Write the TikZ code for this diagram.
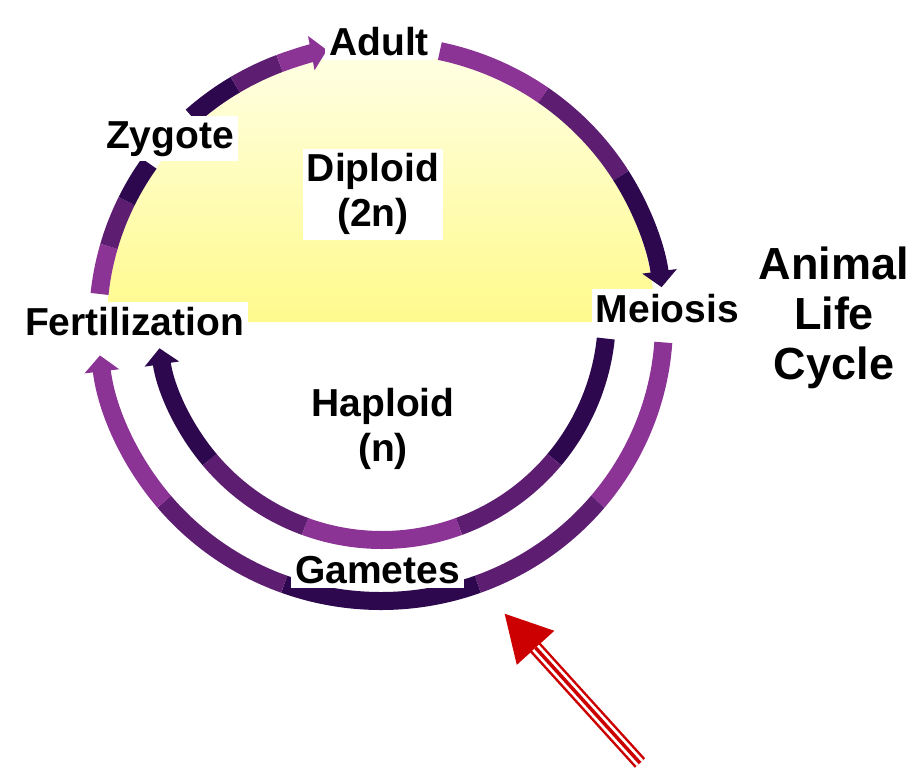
\documentclass[tikz,border=0pt]{standalone}
\usepackage{fontspec}
\setmainfont{Liberation Sans}
\usetikzlibrary{calc,arrows.meta}
\definecolor{cycdark}{RGB}{45,8,78}
\definecolor{cyclight}{RGB}{140,52,150}
\definecolor{diploidyellow}{RGB}{255,250,140}
\definecolor{diploidpale}{RGB}{255,255,228}
\definecolor{pointerred}{RGB}{204,0,0}
\newcommand\cyclefont{\fontsize{39}{45}\selectfont\bfseries}
\newcommand\titlefont{\fontsize{45}{50}\selectfont\bfseries}
\def\cyclearc[#1](#2)(#3:#4:#5:#6){\draw[#1] ($(#2)+({#5*cos(#3)},{#6*sin(#3)})$) arc (#3:#4:#5 and #6);}
\tikzset{
	stage/.style={line width=18pt},
	arcend/.style={-{Triangle[length=16pt,width=34pt]}},
	tag/.style={fill=white, inner xsep=4pt, inner ysep=5pt, font=\cyclefont},
}

\begin{document}
\begin{tikzpicture}[x=1pt,y=-1pt]
		%%%%% START %%%%%
		\useasboundingbox (0,0) rectangle (921,769);
		\fill[white] (0,0) rectangle (921,769);
		
		\coordinate (mid) at (381,323);
		\coordinate (inner) at (382,315);
		
		\shade[top color=diploidpale, bottom color=diploidyellow] ($(mid)+(-274,-1)$) arc (180:360:274 and 269) -- cycle;
		
		\cyclearc[stage, color=cyclight](mid)(186:196:283:278)
		\cyclearc[stage, color=cyclight!50!cycdark](mid)(196:206:283:278)
		\cyclearc[stage, color=cycdark](mid)(206:215:283:278)
		
		\cyclearc[stage, color=cycdark](mid)(228:239:283:278)
		\cyclearc[stage, color=cyclight!50!cycdark](mid)(239:249:283:278)
		\cyclearc[stage, arcend, color=cyclight](mid)(249:259:283:278)
		
		\cyclearc[stage, color=cyclight](mid)(282:305:283:278)
		\cyclearc[stage, color=cyclight!50!cycdark](mid)(305:328:283:278)
		\cyclearc[stage, arcend, color=cycdark](mid)(328:352.6:283:278)
		
		\cyclearc[stage, color=cyclight](mid)(4:40:283:278)
		\cyclearc[stage, color=cyclight!50!cycdark](mid)(40:70:283:278)
		\cyclearc[stage, color=cycdark](mid)(70:110:283:278)
		\cyclearc[stage, color=cyclight!50!cycdark](mid)(110:140:283:278)
		\cyclearc[stage, arcend, color=cyclight](mid)(140:173.3:283:278)
		
		\cyclearc[stage, color=cycdark](inner)(6:40:225:225)
		\cyclearc[stage, color=cyclight!50!cycdark](inner)(40:70:225:225)
		\cyclearc[stage, color=cyclight](inner)(70:110:225:225)
		\cyclearc[stage, color=cyclight!50!cycdark](inner)(110:140:225:225)
		\cyclearc[stage, arcend, color=cycdark](inner)(140:171.5:225:225)
		
		\node[tag, anchor=base] (adult) at (379,55) {Adult};
		\node[tag, anchor=base] (zygote) at (170,148) {Zygote};
		\node[tag, align=center] (diploid) at (373,194.4) {Diploid\\(2n)};
		\node[tag, anchor=base] (fert) at (134.5,335) {Fertilization};
		\node[tag, anchor=base] (meiosis) at (667.5,322) {Meiosis};
		\node[font=\cyclefont, align=center] (haploid) at (383,429.4) {Haploid\\(n)};
		\node[tag, anchor=base] (gametes) at (377.5,583) {Gametes};
		
		\node[font=\titlefont, align=center] (title) at (834,318.3) {Animal\\Life\\Cycle};
		
		\coordinate (pointtail) at (640,763);
		\coordinate (pointtip) at (504,613);
		\coordinate (pointbase) at (535.6,647.8);
		\draw[line width=14pt, color=pointerred, -{Triangle[length=47pt,width=47pt]}] (pointtail) -- (pointtip);
		\draw[line width=9pt, color=white] (pointtail) -- (pointbase);
		\draw[line width=3.5pt, color=pointerred] (pointtail) -- (pointbase);
		
		%%%%% END %%%%%
	\end{tikzpicture}
\end{document}
